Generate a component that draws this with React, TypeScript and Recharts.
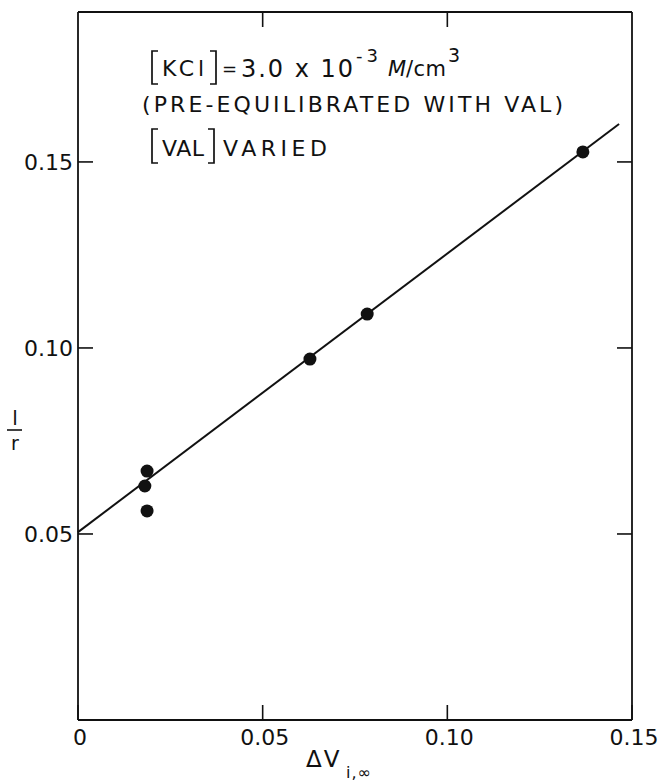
import React from 'react';
import { ScatterChart, Scatter, XAxis, YAxis } from 'recharts';

// measured points: ΔV(i,∞) vs 1/r
const deltaV = [0.0187, 0.0181, 0.0187, 0.0628, 0.0783, 0.1367];
const invR = [0.0669, 0.0629, 0.0562, 0.097, 0.1091, 0.1527];

// least squares line as drawn
const fitX = [0, 0.1465];
const fitY = [0.0505, 0.1602];

const xTicks = [0, 0.05, 0.1, 0.15];
const yTicks = [0.05, 0.1, 0.15];
const xTickLabels = ['0', '0.05', '0.10', '0.15'];
const yTickLabels = ['0.05', '0.10', '0.15'];

const points = deltaV.map((x, i) => ({ x, y: invR[i] }));
const fitLine = fitX.map((x, i) => ({ x, y: fitY[i] }));

const FONT = '"DejaVu Sans", sans-serif';
const INK = '#111';
const TICK = 15;

function BottomTick(props: any) {
  const { x, y, payload, index } = props;
  return (
    <g>
      <line x1={x} y1={y} x2={x} y2={y - TICK} stroke={INK} strokeWidth={1.6} />
      <text x={x + 2} y={y + 25} textAnchor="middle" fontFamily={FONT} fontSize={22} fill={INK}>
        {xTickLabels[index] ?? payload.value}
      </text>
    </g>
  );
}

function TopTick(props: any) {
  const { x, y } = props;
  return <line x1={x} y1={y} x2={x} y2={y + TICK} stroke={INK} strokeWidth={1.6} />;
}

function LeftTick(props: any) {
  const { x, y, payload, index } = props;
  return (
    <g>
      <line x1={x} y1={y} x2={x + TICK} y2={y} stroke={INK} strokeWidth={1.6} />
      <text x={x - 5} y={y + 8} textAnchor="end" fontFamily={FONT} fontSize={22} fill={INK}>
        {yTickLabels[index] ?? payload.value}
      </text>
    </g>
  );
}

function RightTick(props: any) {
  const { x, y } = props;
  return <line x1={x} y1={y} x2={x - TICK} y2={y} stroke={INK} strokeWidth={1.6} />;
}

const Dot = (props: any) => <circle cx={props.cx} cy={props.cy} r={6.5} fill={INK} />;
const NoDot = () => null;

export default function App() {
  const axisLine = { stroke: INK, strokeWidth: 1.8 };
  return (
    <div style={{ position: 'absolute', left: 0, top: 0, width: 662, height: 784, background: '#fff' }}>
      <ScatterChart width={662} height={784} margin={{ top: 11, right: 29, bottom: 34, left: 18 }}>
        <XAxis xAxisId="b" type="number" dataKey="x" domain={[0, 0.15]} ticks={xTicks} height={30}
          tickSize={0} tickMargin={0} tickLine={false} axisLine={axisLine} tick={BottomTick} interval={0} />
        <XAxis xAxisId="t" orientation="top" type="number" dataKey="x" domain={[0, 0.15]} ticks={[0.05, 0.1]} height={1}
          tickSize={0} tickMargin={0} tickLine={false} axisLine={axisLine} tick={TopTick} interval={0} />
        <YAxis yAxisId="l" type="number" dataKey="y" domain={[0, 0.1903]} ticks={yTicks} width={60}
          tickSize={0} tickMargin={0} tickLine={false} axisLine={axisLine} tick={LeftTick} interval={0} />
        <YAxis yAxisId="r" orientation="right" type="number" dataKey="y" domain={[0, 0.1903]} ticks={yTicks} width={1}
          tickSize={0} tickMargin={0} tickLine={false} axisLine={axisLine} tick={RightTick} interval={0} />
        <Scatter xAxisId="b" yAxisId="l" data={fitLine} line={{ stroke: INK, strokeWidth: 2 }} shape={NoDot}
          isAnimationActive={false} />
        <Scatter xAxisId="t" yAxisId="r" data={fitLine} shape={NoDot} isAnimationActive={false} />
        <Scatter xAxisId="b" yAxisId="l" data={points} shape={Dot} isAnimationActive={false} />
      </ScatterChart>
      <svg width={662} height={784} style={{ position: 'absolute', left: 0, top: 0, pointerEvents: 'none' }}
        fontFamily={FONT} fill={INK}>
        {/* annotation, line 1 */}
        <path d="M158 51 L152 51 L152 84 L158 84" stroke={INK} strokeWidth={1.7} fill="none" />
        <text x={162} y={76} fontSize={22} textLength={42} lengthAdjust="spacing">KCl</text>
        <path d="M210 51 L216 51 L216 84 L210 84" stroke={INK} strokeWidth={1.7} fill="none" />
        <text x={222} y={75} fontSize={18}>=</text>
        <text x={241} y={77} fontSize={24} textLength={112} lengthAdjust="spacing">3.0 x 10</text>
        <text x={356} y={62} fontSize={18} textLength={22} lengthAdjust="spacing">-3</text>
        <text x={388} y={76} fontSize={21} fontStyle="italic">M</text>
        <text x={406} y={76} fontSize={21} textLength={40} lengthAdjust="spacing">/cm</text>
        <text x={448} y={62} fontSize={19}>3</text>
        {/* line 2 */}
        <text x={142} y={112} fontSize={22} textLength={421} lengthAdjust="spacing">(PRE-EQUILIBRATED WITH VAL)</text>
        {/* line 3 */}
        <path d="M158 129 L152 129 L152 163 L158 163" stroke={INK} strokeWidth={1.7} fill="none" />
        <text x={162} y={156} fontSize={22} textLength={42} lengthAdjust="spacing">VAL</text>
        <path d="M208 129 L214 129 L214 163 L208 163" stroke={INK} strokeWidth={1.7} fill="none" />
        <text x={223} y={156} fontSize={22} textLength={104} lengthAdjust="spacing">VARIED</text>
        {/* y label 1/r */}
        <text x={15} y={425} fontSize={20} textAnchor="middle">l</text>
        <line x1={7} y1={430} x2={22} y2={430} stroke={INK} strokeWidth={1.6} />
        <text x={15} y={450} fontSize={19} textAnchor="middle">r</text>
        {/* x label */}
        <text x={306} y={767} fontSize={23} letterSpacing={2}>ΔV</text>
        <text x={346} y={778} fontSize={16} letterSpacing={1}>i,∞</text>
      </svg>
    </div>
  );
}
